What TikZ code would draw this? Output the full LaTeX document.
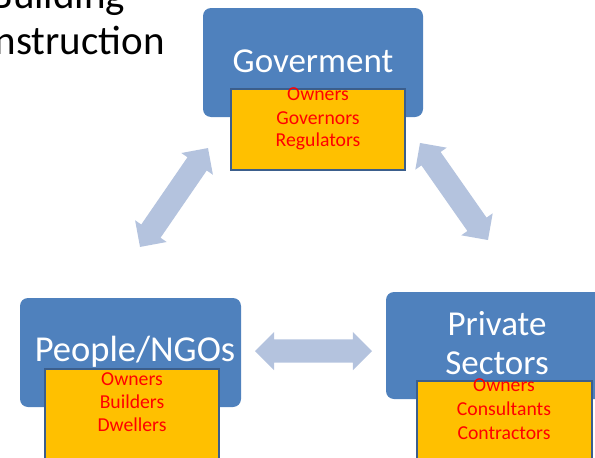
\documentclass[tikz,border=0pt]{standalone}
\usepackage{fontspec}
\setmainfont{Carlito}
\usetikzlibrary{shapes.arrows}
\definecolor{boxblue}{HTML}{4F81BD}
\definecolor{arrowblue}{HTML}{B4C3DE}
\definecolor{boxgold}{HTML}{FFC000}
\definecolor{edgeblue}{HTML}{3B5E8C}
\begin{document}
\begin{tikzpicture}[x=1pt,y=-1pt,
  bluebox/.style={fill=boxblue, rounded corners=8pt, draw=none, inner sep=0pt},
  goldbox/.style={fill=boxgold, draw=edgeblue, line width=1.5pt, inner sep=0pt},
  headtext/.style={font=\fontsize{35}{39}\selectfont, text=white, anchor=base, inner sep=0pt},
  roletext/.style={font=\fontsize{19.7}{23}\selectfont, text=red, anchor=base, inner sep=0pt},
  titletext/.style={font=\fontsize{41}{46}\selectfont, text=black, anchor=base, inner sep=0pt},
  blockarrow/.style={double arrow, fill=arrowblue, draw=none, inner xsep=0pt, inner ysep=11.5pt, text height=0pt, text depth=0pt, double arrow head extend=7.5pt}
]
\useasboundingbox (0,0) rectangle (595,458);
\clip (0,0) rectangle (595,458);

% title (partly cut off)
\node[titletext] (title1) at (58,8) {Building};
\node[titletext] (title2) at (58,54) {Construction};

% blue boxes
\node[bluebox, minimum width=220pt, minimum height=109pt] (gov) at (313,62.5) {};
\node[bluebox, minimum width=221pt, minimum height=109pt] (people) at (130.5,352.5) {};
\node[bluebox, minimum width=221pt, minimum height=107pt] (private) at (496.5,345.5) {};

% headings
\node[headtext] (govtext) at (313,72) {Goverment};
\node[headtext, font=\fontsize{36.5}{39}\selectfont] (peopletext) at (135,361.7) {People/NGOs};
\node[headtext] (privtext1) at (497,335) {Private};
\node[headtext] (privtext2) at (497,374.3) {Sectors};

% gold boxes
\node[goldbox, minimum width=174pt, minimum height=81pt] (govroles) at (318,129.5) {};
\node[goldbox, minimum width=174pt, minimum height=101pt] (peopleroles) at (132,419.5) {};
\node[goldbox, minimum width=175pt, minimum height=89pt] (privroles) at (504.5,425.5) {};

% role texts
\node[roletext] (g1) at (318,100.7) {Owners};
\node[roletext] (g2) at (318,124) {Governors};
\node[roletext] (g3) at (318,146.7) {Regulators};
\node[roletext] (p1) at (132,385) {Owners};
\node[roletext] (p2) at (132,408.3) {Builders};
\node[roletext] (p3) at (132,431.7) {Dwellers};
\node[roletext] (s1) at (504,391.7) {Owners};
\node[roletext] (s2) at (504,415) {Consultants};
\node[roletext] (s3) at (504,439.3) {Contractors};

% block arrows
\node[blockarrow, minimum height=120pt, rotate=55.5] (arrGP) at (174,197.5) {};
\node[blockarrow, minimum height=118.5pt, rotate=-55] (arrGS) at (454,191.5) {};
\node[blockarrow, minimum height=117pt] (arrPS) at (313.5,351) {};
\end{tikzpicture}
\end{document}
